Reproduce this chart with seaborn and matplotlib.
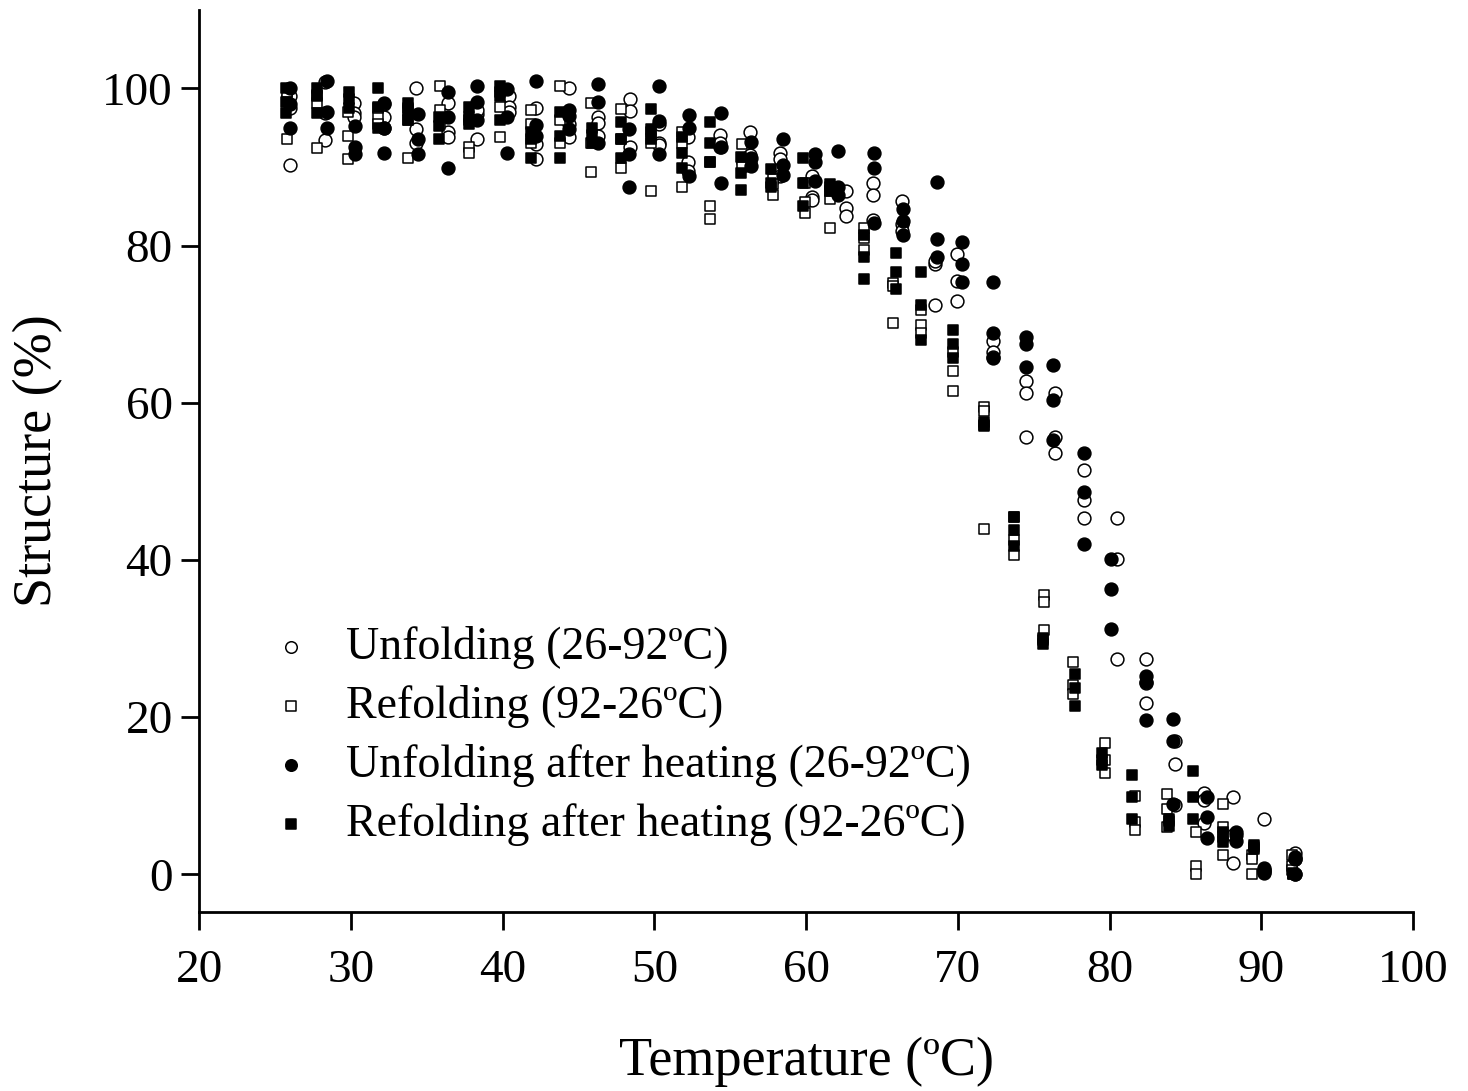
import numpy as np
import pandas as pd
import matplotlib
matplotlib.use('Agg')
import matplotlib.pyplot as plt
import seaborn as sns

# temperatures (ºC) and three replicate readings of structure (%) per step
unf_T = [26.0, 28.3, 30.2, 32.2, 34.3, 36.4, 38.3, 40.4, 42.2, 44.4, 46.3, 48.4, 50.3, 52.2, 54.3, 56.3, 58.3,
         60.4, 62.6, 64.4, 66.3, 68.5, 69.95, 72.3, 74.5, 76.4, 78.3, 80.5, 82.4, 84.3, 86.2, 88.1, 90.2, 92.2]
unf_S = [(90.3, 97.5, 99.0), (100.8, 96.9, 93.4), (98.2, 96.9, 96.3), (98.0, 96.3, 95.0), (100.1, 94.8, 93.0),
         (98.2, 94.4, 93.8), (96.7, 93.5, 97.2), (99.0, 97.6, 97.0), (97.5, 92.9, 91.0), (100.1, 93.8, 95.5),
         (96.4, 95.6, 94.0), (98.6, 97.1, 92.6), (93.1, 92.8, 95.5), (93.8, 90.6, 89.5), (94.1, 92.6, 93.0),
         (94.5, 91.5, 90.5), (91.8, 91.0, 88.8), (88.8, 86.2, 85.8), (84.8, 83.8, 87.0), (88.0, 86.4, 83.3),
         (85.7, 82.7, 81.8), (77.6, 72.5, 78.0), (78.9, 75.5, 72.9), (67.8, 66.4, 65.8), (62.8, 61.3, 55.7),
         (61.3, 55.7, 53.6), (51.5, 47.6, 45.3), (45.3, 40.1, 27.4), (27.4, 24.3, 21.8), (14.0, 8.8, 17.0),
         (10.3, 6.5, 9.5), (9.8, 1.5, 5.0), (7.1, 0.5, 0.3), (2.7, 2.0, 0.1)]

ref_T = [25.8, 27.8, 29.8, 31.8, 33.8, 35.9, 37.8, 39.8, 41.9, 43.8, 45.8, 47.8, 49.8, 51.8, 53.7, 55.8, 57.8,
         59.9, 61.6, 63.8, 65.7, 67.6, 69.7, 71.7, 73.7, 75.7, 77.6, 79.7, 81.7, 83.8, 85.7, 87.5, 89.4, 92.0]
ref_S = [(93.6, 98.5, 99.5), (99.2, 98.2, 92.4), (93.9, 91.0, 97.0), (96.3, 97.5, 95.5), (91.2, 96.0, 97.5),
         (100.3, 97.3, 95.5), (92.5, 91.8, 96.0), (97.6, 93.8, 99.5), (97.3, 93.0, 95.5), (100.3, 96.0, 93.0),
         (98.2, 93.1, 89.4), (97.4, 89.9, 93.5), (86.9, 94.5, 93.0), (94.5, 87.4, 93.0), (90.6, 85.0, 83.4),
         (92.9, 91.0, 90.0), (86.5, 88.5, 87.8), (85.6, 84.2, 88.0), (82.3, 85.9, 87.0), (82.3, 79.4, 81.0),
         (75.2, 70.2, 74.8), (71.8, 69.9, 68.9), (66.5, 64.1, 61.5), (59.5, 58.9, 44.0), (45.5, 40.6, 42.5),
         (35.5, 34.7, 31.1), (27.0, 24.1, 23.0), (16.7, 12.9, 14.5), (6.6, 5.6, 10.0), (10.2, 8.3, 6.0),
         (5.4, 1.0, 0.0), (8.9, 2.4, 6.0), (2.5, 0.0, 2.0), (2.4, 1.0, 0.5)]

unf_h_T = [26.0, 28.4, 30.3, 32.2, 34.4, 36.4, 38.3, 40.3, 42.2, 44.4, 46.3, 48.3, 50.3, 52.3, 54.4, 56.4, 58.5,
           60.6, 62.1, 64.5, 66.4, 68.6, 70.3, 72.3, 74.5, 76.3, 78.3, 80.1, 82.4, 84.2, 86.4, 88.3, 90.2, 92.2]
unf_h_S = [(100.1, 98.0, 95.0), (100.9, 95.0, 97.0), (95.2, 92.5, 91.6), (98.2, 95.0, 91.8), (96.7, 93.5, 91.6),
           (99.5, 96.3, 89.9), (100.3, 98.3, 96.0), (99.9, 96.4, 91.8), (100.9, 95.4, 94.0), (97.3, 94.8, 96.5),
           (100.5, 98.3, 93.1), (94.8, 91.6, 87.4), (100.3, 95.8, 91.6), (96.6, 95.0, 88.8), (96.9, 88.0, 92.5),
           (93.2, 91.2, 90.1), (93.5, 90.3, 89.0), (91.6, 90.7, 88.2), (92.0, 87.4, 86.5), (91.8, 89.9, 82.9),
           (84.7, 83.1, 81.3), (88.1, 80.8, 78.6), (80.5, 77.7, 75.4), (75.4, 68.9, 65.7), (68.4, 67.5, 64.6),
           (64.8, 60.4, 55.3), (53.6, 48.7, 42.0), (40.1, 36.3, 31.2), (25.3, 24.5, 19.6), (19.8, 17.0, 8.9),
           (9.8, 7.3, 4.6), (5.4, 4.3, 5.0), (0.5, 0.2, 0.8), (2.2, 0.1, 2.0)]

ref_h_T = [25.7, 27.8, 29.9, 31.8, 33.8, 35.8, 37.8, 39.8, 41.9, 43.8, 45.9, 47.8, 49.8, 51.8, 53.7, 55.7, 57.7,
           59.8, 61.6, 63.8, 65.9, 67.6, 69.7, 71.7, 73.7, 75.6, 77.7, 79.5, 81.5, 83.9, 85.5, 87.5, 89.5, 92.1]
ref_h_S = [(100.1, 98.3, 96.9), (96.9, 100.0, 99.0), (99.6, 98.6, 97.5), (100.0, 97.6, 95.0), (98.2, 97.3, 96.0),
           (96.4, 95.2, 93.5), (97.6, 96.3, 95.5), (100.3, 96.0, 99.0), (94.5, 91.2, 93.5), (97.0, 93.9, 91.2),
           (94.1, 93.1, 95.0), (95.7, 93.5, 91.2), (97.4, 94.8, 93.5), (93.8, 91.8, 89.9), (95.7, 93.1, 90.6),
           (91.3, 89.3, 87.1), (89.7, 88.0, 87.5), (91.2, 88.0, 85.0), (87.5, 86.9, 87.8), (81.3, 78.6, 75.8),
           (79.0, 76.7, 74.5), (76.7, 72.5, 68.0), (69.3, 67.5, 65.7), (57.2, 57.5, 57.0), (45.5, 43.8, 41.8),
           (30.1, 29.3, 29.8), (25.5, 23.7, 21.4), (15.4, 13.9, 14.5), (12.7, 9.9, 7.1), (7.1, 6.2, 6.8),
           (13.1, 9.9, 7.0), (5.4, 4.1, 4.8), (3.7, 3.2, 3.5), (0.0, 0.2, 0.1)]

labels = ['Unfolding (26-92ºC)', 'Refolding (92-26ºC)',
          'Unfolding after heating (26-92ºC)', 'Refolding after heating (92-26ºC)']

sns.set_style('ticks')
plt.rcParams['font.family'] = ['Liberation Serif', 'DejaVu Serif']
plt.rcParams.update({'axes.linewidth': 2.0, 'axes.edgecolor': 'black', 'text.color': 'black',
                     'axes.labelcolor': 'black', 'xtick.color': 'black', 'ytick.color': 'black'})

fig = plt.figure(figsize=(14.68, 10.91), dpi=100)
ax = fig.add_axes([0.1356, 0.164, 0.827, 0.827])

series = [(unf_T, unf_S, 'o', 'white', 85), (ref_T, ref_S, 's', 'white', 62),
          (unf_h_T, unf_h_S, 'o', 'black', 85), (ref_h_T, ref_h_S, 's', 'black', 62)]

for (T, S, mk, fc, size), lab in zip(series, labels):
    df = pd.DataFrame({'T': np.repeat(T, 3), 'S': np.ravel(S)})
    sns.scatterplot(data=df, x='T', y='S', marker=mk, s=size, color=fc, edgecolor='black',
                    linewidth=1.1, label=lab, ax=ax)

ax.set_xlim(20, 100)
ax.set_ylim(-4.8, 110)
ax.set_xticks(range(20, 101, 10))
ax.set_yticks(range(0, 101, 20))
ax.tick_params(direction='out', length=13, width=2, labelsize=34, pad=6)
ax.tick_params(axis='x', pad=14)
sns.despine(ax=ax)
ax.set_xlabel('Temperature (ºC)', fontsize=39, labelpad=32)
ax.set_ylabel('Structure (%)', fontsize=39, labelpad=28)

ax.legend(loc='upper left', bbox_to_anchor=(0.049, 0.337), frameon=False, fontsize=33,
          handlelength=0.6, handletextpad=0.9, labelspacing=0.35, markerscale=0.9, borderaxespad=0)

fig.savefig('out.png', dpi=100)
